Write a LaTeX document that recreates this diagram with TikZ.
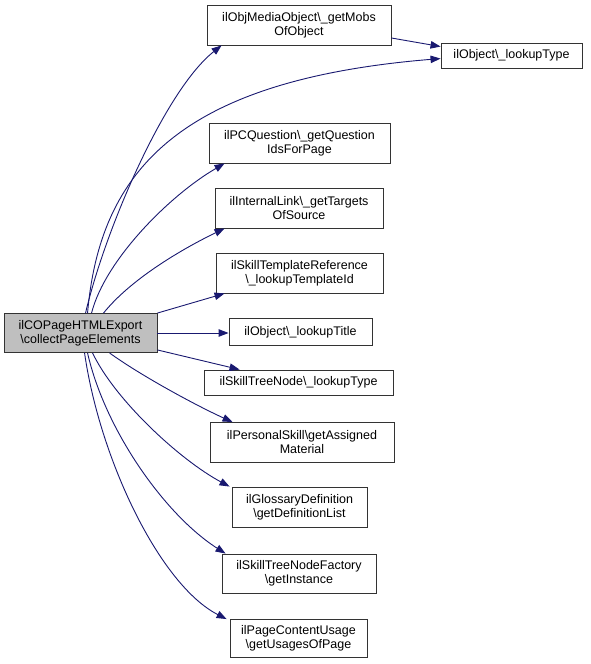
\documentclass[tikz,border=0pt]{standalone}
\usepackage{fontspec}
\setmainfont{Liberation Sans}
\usetikzlibrary{arrows.meta}
\definecolor{midnight}{HTML}{191970}
\definecolor{boxline}{HTML}{333333}
\definecolor{srcfill}{HTML}{BFBFBF}
\begin{document}
\begin{tikzpicture}[x=1pt,y=-1pt,
  box/.style={draw=boxline, fill=white, line width=0.9pt, inner sep=0pt, align=center,
    font=\fontsize{12.5}{14}\selectfont},
  srcbox/.style={box, fill=srcfill},
  callarrow/.style={draw=midnight, line width=0.9pt, -{Triangle[length=10pt,width=7.5pt]}}]
\useasboundingbox (0,0) rectangle (591,664);

\node[srcbox, minimum width=153pt, minimum height=39pt] (src) at (80.5,333)
  {ilCOPageHTMLExport\\\textbackslash collectPageElements};

\node[box, minimum width=184pt, minimum height=40pt] (obj) at (299,25)
  {ilObjMediaObject\textbackslash\_getMobs\\OfObject};
\node[box, minimum width=141pt, minimum height=25pt] (lt) at (511.5,55.5)
  {ilObject\textbackslash\_lookupType};
\node[box, minimum width=181pt, minimum height=40pt] (pcq) at (299.5,143)
  {ilPCQuestion\textbackslash\_getQuestion\\IdsForPage};
\node[box, minimum width=168pt, minimum height=40pt] (il) at (299,208)
  {ilInternalLink\textbackslash\_getTargets\\OfSource};
\node[box, minimum width=167pt, minimum height=40pt] (str) at (299.5,273)
  {ilSkillTemplateReference\\\textbackslash\_lookupTemplateId};
\node[box, minimum width=143pt, minimum height=27pt] (tit) at (300.5,332)
  {ilObject\textbackslash\_lookupTitle};
\node[box, minimum width=189pt, minimum height=25pt] (stn) at (298.5,382.5)
  {ilSkillTreeNode\textbackslash\_lookupType};
\node[box, minimum width=184pt, minimum height=40pt] (ps) at (302,442.5)
  {ilPersonalSkill\textbackslash getAssigned\\Material};
\node[box, minimum width=135pt, minimum height=40pt] (gl) at (299.5,507)
  {ilGlossaryDefinition\\\textbackslash getDefinitionList};
\node[box, minimum width=154pt, minimum height=39pt] (fac) at (299,573.5)
  {ilSkillTreeNodeFactory\\\textbackslash getInstance};
\node[box, minimum width=137pt, minimum height=38pt] (pcu) at (298.5,638.5)
  {ilPageContentUsage\\\textbackslash getUsagesOfPage};

% edges from top of source
\draw[callarrow] ([xshift=82pt]src.north west) .. controls (105,230) and (165,90) .. ([xshift=15pt]obj.south west);
\draw[callarrow] ([xshift=84pt]src.north west) .. controls (100,170) and (180,80) .. ([yshift=-16pt]lt.north west);
\draw[callarrow] ([xshift=88pt]src.north west) .. controls (105,260) and (170,195) .. ([xshift=16pt]pcq.south west);
\draw[callarrow] ([xshift=100pt]src.north west) .. controls (130,280) and (180,250) .. ([xshift=10pt]il.south west);
\draw[callarrow] (src.north east) -- ([xshift=9pt]str.south west);
\draw[callarrow] (src.east) -- (src.east -| tit.west);
\draw[callarrow] ([yshift=3pt]src.south east) -- ([xshift=36pt]stn.north west);
% edges from bottom of source
\draw[callarrow] ([xshift=106pt]src.south west) .. controls (140,375) and (195,405) .. ([xshift=23pt]ps.north west);
\draw[callarrow] ([xshift=89pt]src.south west) .. controls (115,400) and (180,460) .. ([xshift=-2pt]gl.north west);
\draw[callarrow] ([xshift=84pt]src.south west) .. controls (105,430) and (165,515) .. ([xshift=4pt]fac.north west);
\draw[callarrow] ([xshift=81pt]src.south west) .. controls (100,460) and (160,585) .. ([xshift=-3pt]pcu.north west);
% secondary call
\draw[callarrow] ([yshift=-13pt]obj.east) -- ([yshift=-4pt]lt.north west);
\end{tikzpicture}
\end{document}
